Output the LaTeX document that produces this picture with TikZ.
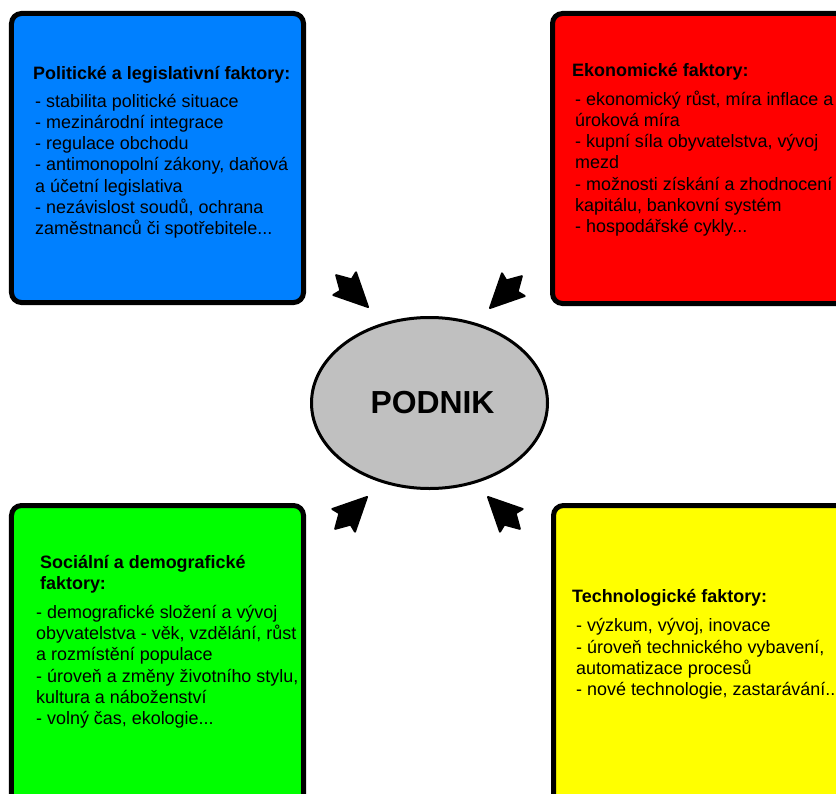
\documentclass[tikz,border=0pt]{standalone}
\usepackage{fontspec}
\setmainfont{Liberation Sans}
\usepackage{xcolor}
\usetikzlibrary{shapes.geometric}
\definecolor{polblue}{RGB}{0,128,255}
\definecolor{ekored}{RGB}{255,0,0}
\definecolor{socgreen}{RGB}{0,255,0}
\definecolor{techyellow}{RGB}{255,255,0}
\definecolor{podgray}{RGB}{192,192,192}

\begin{document}
\begin{tikzpicture}[x=1bp, y=-1bp,
    factor/.style={rectangle, draw=black, line width=5bp, rounded corners=10bp, inner sep=0pt},
    factortext/.style={anchor=base west, align=left, inner sep=0pt, font=\fontsize{18}{21.3}\selectfont},
    podnik/.style={ellipse, draw=black, line width=3bp, fill=podgray, inner sep=0pt, font=\fontsize{32}{36}\selectfont\bfseries},
    podarrow/.style={draw=black, fill=black, line width=2bp, line join=round}]

    \useasboundingbox (0,0) rectangle (836,794);

    \node[factor, fill=polblue, minimum width=292bp, minimum height=289bp] (pol) at (157.5,158) {};
    \node[factor, fill=ekored, minimum width=327.5bp, minimum height=290bp] (eko) at (716.25,158.5) {};
    \node[factor, fill=socgreen, minimum width=292bp, minimum height=324.5bp] (soc) at (157.5,667.75) {};
    \node[factor, fill=techyellow, minimum width=326.5bp, minimum height=324.5bp] (tech) at (716.75,667.75) {};

    \node[factortext] (poltext) at (35,234.5) {\hspace*{-2bp}\textbf{Politické a legislativní faktory:}\\[6.7pt]
        - stabilita politické situace\\
        - mezinárodní integrace\\
        - regulace obchodu\\
        - antimonopolní zákony, daňová\\
        a účetní legislativa\\
        - nezávislost soudů, ochrana\\
        zaměstnanců či spotřebitele...};
    \node[factortext] (ekotext) at (575,232.5) {\hspace*{-3bp}\textbf{Ekonomické faktory:}\\[7pt]
        - ekonomický růst, míra inflace a\\
        úroková míra\\
        - kupní síla obyvatelstva, vývoj\\
        mezd\\
        - možnosti získání a zhodnocení\\
        kapitálu, bankovní systém\\
        - hospodářské cykly...};
    \node[factortext] (soctext) at (36,724.5) {\hspace*{4bp}\textbf{Sociální a demografické}\\
        \hspace*{4bp}\textbf{faktory:}\\[7.7pt]
        - demografické složení a vývoj\\
        obyvatelstva - věk, vzdělání, růst\\
        a rozmístění populace\\
        - úroveň a změny životního stylu,\\
        kultura a náboženství\\
        - volný čas, ekologie...};
    \node[factortext] (techtext) at (576,695.5) {\hspace*{-4bp}\textbf{Technologické faktory:}\\[8pt]
        - výzkum, vývoj, inovace\\
        - úroveň technického vybavení,\\
        automatizace procesů\\
        - nové technologie, zastarávání...};

    \node[podnik, minimum width=236bp, minimum height=171bp] (firm) at (429.5,403) {\hspace*{6bp}PODNIK};

    \foreach \tx/\ty/\ang in {368/307/-45, 490/308/-135, 367/497/45, 488/497/135}
        \filldraw[podarrow, shift={(\tx,\ty)}, rotate=\ang]
            (0,0) -- (-33,16) -- (-31,8) -- (-45,0) -- (-31,-8) -- (-33,-16) -- cycle;
\end{tikzpicture}
\end{document}
